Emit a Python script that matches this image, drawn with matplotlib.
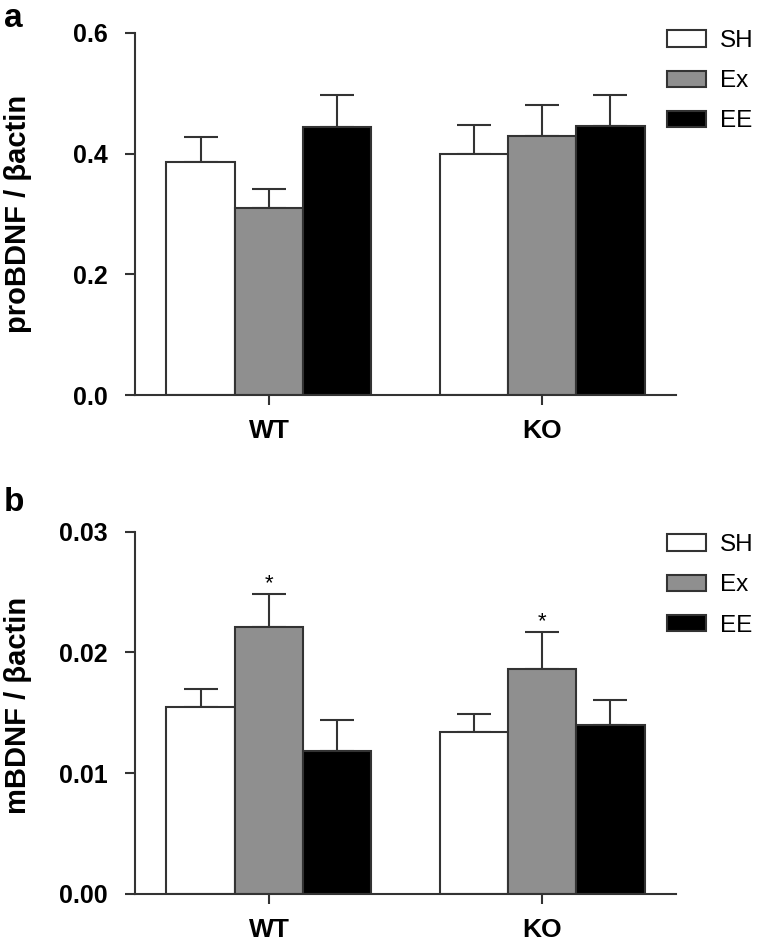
import numpy as np
import matplotlib
matplotlib.use("Agg")
import matplotlib.pyplot as plt

plt.rcParams['font.family'] = ['Liberation Sans', 'DejaVu Sans']

groups = ["WT", "KO"]
conditions = ["SH", "Ex", "EE"]
colors = ["white", "#8f8f8f", "black"]

# panel a: proBDNF / beta-actin
pro_mean = [[0.386, 0.310, 0.445],   # WT
            [0.399, 0.429, 0.446]]   # KO
pro_err = [[0.041, 0.032, 0.053],
           [0.049, 0.051, 0.051]]

# panel b: mBDNF / beta-actin
m_mean = [[0.0155, 0.0221, 0.0118],
          [0.0134, 0.0186, 0.0140]]
m_err = [[0.0015, 0.0027, 0.0026],
         [0.0015, 0.0031, 0.0021]]
m_star = [False, True, False]

edge = "#333333"


def bar_panel(ax, mean, err, ylabel, yticks, fmt, label_y, stars=None):
    mean = np.array(mean)
    err = np.array(err)
    x = np.arange(len(groups))
    w = 0.25
    for i, cond in enumerate(conditions):
        pos = x + (i - 1) * w
        ax.bar(pos, mean[:, i], w, color=colors[i], edgecolor=edge,
               linewidth=1.5, label=cond, zorder=2)
        ax.errorbar(pos, mean[:, i], yerr=[np.zeros(len(x)), err[:, i]],
                    fmt='none', ecolor=edge, elinewidth=1.5, capsize=12.5,
                    capthick=1.5, zorder=1)
        if stars is not None and stars[i]:
            for p, m, e in zip(pos, mean[:, i], err[:, i]):
                ax.text(p, m + e, "*", ha='center', va='bottom',
                        fontsize=16, color='black')
    ax.set_xlim(-0.49, 1.49)
    ax.set_ylim(yticks[0], yticks[-1])
    ax.set_yticks(yticks)
    ax.set_yticklabels([fmt.format(t) for t in yticks])
    ax.set_xticks(x)
    ax.set_xticklabels(groups)
    for s in ['top', 'right']:
        ax.spines[s].set_visible(False)
    for s in ['left', 'bottom']:
        ax.spines[s].set_color(edge)
        ax.spines[s].set_linewidth(1.5)
    ax.tick_params(direction='out', length=7, width=1.5, color=edge)
    ax.tick_params(axis='y', labelsize=18, pad=13)
    ax.tick_params(axis='x', labelsize=19, pad=10)
    for lab in ax.get_xticklabels() + ax.get_yticklabels():
        lab.set_fontweight('bold')
    ax.set_ylabel(ylabel, fontsize=21, fontweight='bold')
    ax.yaxis.set_label_coords(-0.19, label_y)


fig = plt.figure(figsize=(7.63, 9.41), dpi=100)
ax1 = fig.add_axes([0.177, 0.580, 0.709, 0.385])
ax2 = fig.add_axes([0.177, 0.050, 0.709, 0.385])

bar_panel(ax1, pro_mean, pro_err, "proBDNF / βactin",
          [0.0, 0.2, 0.4, 0.6], "{:.1f}", 0.5)
bar_panel(ax2, m_mean, m_err, "mBDNF / βactin",
          [0.0, 0.01, 0.02, 0.03], "{:.2f}", 0.52, stars=m_star)

for ax, top in [(ax1, 1.008), (ax2, 0.993)]:
    ax.legend(loc='upper left', bbox_to_anchor=(0.983, top), frameon=False,
              fontsize=17.5, handlelength=1.6, handleheight=0.66,
              handletextpad=0.6, labelspacing=0.75, borderpad=0,
              borderaxespad=0)

fig.text(0.005, 0.980, "a", fontsize=24, fontweight='bold', va='center')
fig.text(0.005, 0.466, "b", fontsize=24, fontweight='bold', va='center')

fig.savefig("out.png", dpi=100)
